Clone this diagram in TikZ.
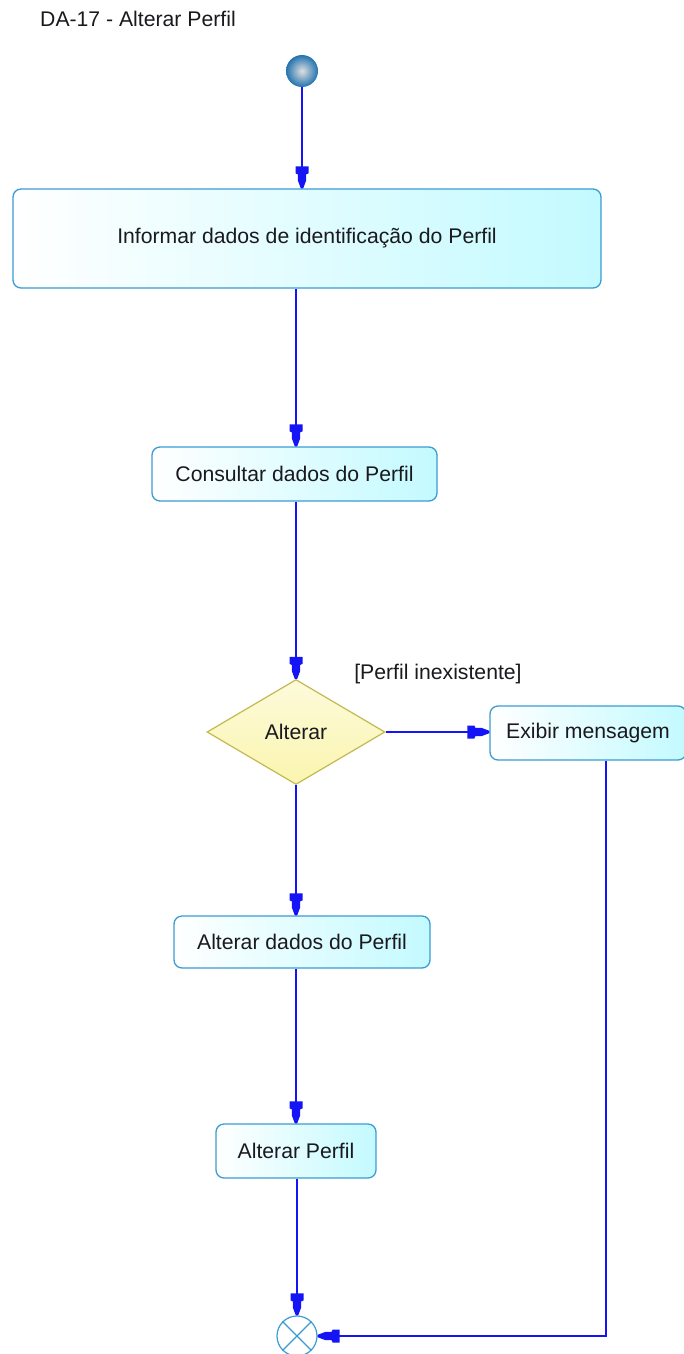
\documentclass[tikz,border=0pt]{standalone}
\usepackage{fontspec}
\setmainfont{Liberation Sans}
\usetikzlibrary{arrows.meta,shapes.geometric}
\pgfdeclarearrow{
  name=UMLHead,
  setup code={
    \pgfarrowssettipend{0pt}
    \pgfarrowssetlineend{-10pt}
    \pgfarrowssetbackend{-22pt}
    \pgfarrowshullpoint{0pt}{0pt}
    \pgfarrowshullpoint{-22pt}{6.5pt}
    \pgfarrowshullpoint{-22pt}{-6.5pt}
  },
  drawing code={
    \pgfpathmoveto{\pgfqpoint{0pt}{1.2pt}}
    \pgfpathlineto{\pgfqpoint{-8pt}{4.2pt}}
    \pgfpathlineto{\pgfqpoint{-14pt}{4.2pt}}
    \pgfpathlineto{\pgfqpoint{-15pt}{6.5pt}}
    \pgfpathlineto{\pgfqpoint{-22pt}{6.5pt}}
    \pgfpathlineto{\pgfqpoint{-22pt}{-6.5pt}}
    \pgfpathlineto{\pgfqpoint{-15pt}{-6.5pt}}
    \pgfpathlineto{\pgfqpoint{-14pt}{-4.2pt}}
    \pgfpathlineto{\pgfqpoint{-8pt}{-4.2pt}}
    \pgfpathlineto{\pgfqpoint{0pt}{-1.2pt}}
    \pgfpathclose
    \pgfusepathqfill
  }
}
\definecolor{boxborder}{RGB}{60,155,210}
\definecolor{boxfill}{RGB}{195,250,255}
\definecolor{dborder}{RGB}{195,185,80}
\definecolor{dfill}{RGB}{250,245,175}
\definecolor{flow}{RGB}{20,20,245}
\definecolor{ballout}{RGB}{35,115,175}
\definecolor{txt}{RGB}{25,25,30}
\tikzset{
  actbox/.style={draw=boxborder, line width=1.3pt, rounded corners=8pt,
    left color=white, right color=boxfill, inner sep=0pt,
    font=\fontsize{21.2}{25}\selectfont, text=txt},
  decis/.style={diamond, draw=dborder, line width=1.2pt, inner sep=0pt,
    top color=dfill!45, bottom color=dfill, aspect=1.7,
    font=\fontsize{21.2}{25}\selectfont, text=txt},
  flowarrow/.style={draw=flow, line width=1.8pt, -UMLHead},
  lbl/.style={font=\fontsize{21.2}{25}\selectfont, text=txt, inner sep=0pt}
}
\begin{document}
\begin{tikzpicture}[x=1pt,y=-1pt]
\useasboundingbox (0,0) rectangle (684,1354);
\node[lbl, anchor=west] (title) at (40,19) {DA-17 - Alterar Perfil};
\node[circle, minimum size=32pt, inner sep=0pt, inner color=gray!25, outer color=ballout] (s) at (302,71) {};
\node[actbox, minimum width=588pt, minimum height=99pt] (b1) at (307,238.5) {Informar dados de identificação do Perfil};
\node[actbox, minimum width=285pt, minimum height=54pt] (b2) at (294.5,474) {Consultar dados do Perfil};
\node[decis, minimum width=178pt, minimum height=105pt] (d) at (296,732) {Alterar};
\node[lbl] (g) at (438,674) {[Perfil inexistente]};
\node[actbox, minimum width=196pt, minimum height=54pt] (ex) at (588,733) {Exibir mensagem};
\node[actbox, minimum width=256pt, minimum height=52pt] (b3) at (302,942) {Alterar dados do Perfil};
\node[actbox, minimum width=160pt, minimum height=54pt] (b4) at (296,1151) {Alterar Perfil};
\node[circle, draw=boxborder, line width=1.2pt, fill=white, minimum size=40pt, inner sep=0pt] (f) at (297,1336) {};
\draw[boxborder, line width=1.2pt] (f.north east) -- (f.south west) (f.north west) -- (f.south east);
\coordinate (c1) at (606,1336);
\draw[flowarrow] (s) -- (s |- b1.north);
\draw[flowarrow] (d.north |- b1.south) -- (d.north |- b2.north);
\draw[flowarrow] (b2.south -| d.north) -- (d.north);
\draw[flowarrow] (d.east) -- (ex.west |- d.east);
\draw[flowarrow] (d.south) -- (d.south |- b3.north);
\draw[flowarrow] (b4.north |- b3.south) -- (b4.north);
\draw[flowarrow] (b4.south -| f.north) -- (f.north);
\draw[flowarrow] (ex.south -| c1) -- (c1) -- (f.east);
\end{tikzpicture}
\end{document}
